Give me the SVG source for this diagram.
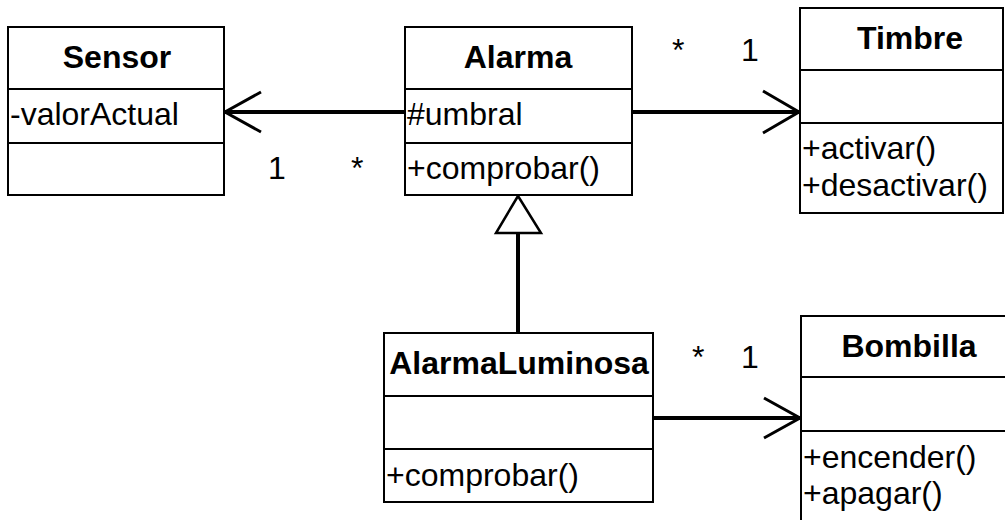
<svg xmlns="http://www.w3.org/2000/svg" width="1005" height="520" viewBox="0 0 1005 520">
<style>
.box{fill:#fff;stroke:#000;stroke-width:2}
.div{stroke:#000;stroke-width:2}
.t{font-family:"Liberation Sans",Arial,sans-serif;font-size:32px;fill:#000}
.b{font-weight:bold;text-anchor:middle}
.line{stroke:#000;stroke-width:4;fill:none}
.head{stroke:#000;stroke-width:3;fill:none}
.tri{stroke:#000;stroke-width:2.5;fill:#fff}
</style>
<rect width="1005" height="520" fill="#fff"/>
<g id="connectors">
<line class="line" x1="405" y1="112" x2="225" y2="112"/>
<polyline class="head" points="261,92 225,112 261,132"/>
<line class="line" x1="632" y1="112" x2="799" y2="112"/>
<polyline class="head" points="763,91 799,112 763,133"/>
<line class="line" x1="653" y1="418" x2="800" y2="418"/>
<polyline class="head" points="764,398 800,418 764,438"/>
<line class="line" x1="518" y1="233" x2="518" y2="333"/>
<polygon class="tri" points="518,196 496,233 541,233"/>
<text class="t" x="268" y="179">1</text>
<text class="t" x="351" y="179">*</text>
<text class="t" x="672" y="61">*</text>
<text class="t" x="741" y="61">1</text>
<text class="t" x="692" y="368">*</text>
<text class="t" x="741" y="368">1</text>
</g>
<g id="Sensor">
<rect class="box" x="8" y="27" width="216" height="168"/>
<line class="div" x1="8" y1="89" x2="224" y2="89"/>
<line class="div" x1="8" y1="143" x2="224" y2="143"/>
<text class="t b" x="117" y="68">Sensor</text>
<text class="t" x="10" y="125">-valorActual</text>
</g>
<g id="Alarma">
<rect class="box" x="405" y="27" width="227" height="168"/>
<line class="div" x1="405" y1="89" x2="632" y2="89"/>
<line class="div" x1="405" y1="143" x2="632" y2="143"/>
<text class="t b" x="518" y="68">Alarma</text>
<text class="t" x="407" y="125">#umbral</text>
<text class="t" x="407" y="179">+comprobar()</text>
</g>
<g id="Timbre">
<rect class="box" x="800" y="8" width="203" height="205"/>
<line class="div" x1="800" y1="70" x2="1003" y2="70"/>
<line class="div" x1="800" y1="123" x2="1003" y2="123"/>
<text class="t b" x="910" y="49">Timbre</text>
<text class="t" x="802" y="159">+activar()</text>
<text class="t" x="802" y="196">+desactivar()</text>
</g>
<g id="AlarmaLuminosa">
<rect class="box" x="384" y="333" width="269" height="169"/>
<line class="div" x1="384" y1="396" x2="653" y2="396"/>
<line class="div" x1="384" y1="449" x2="653" y2="449"/>
<text class="t b" x="519" y="374">AlarmaLuminosa</text>
<text class="t" x="386" y="486">+comprobar()</text>
</g>
<g id="Bombilla">
<rect class="box" x="801" y="316" width="220" height="220"/>
<line class="div" x1="801" y1="377" x2="1021" y2="377"/>
<line class="div" x1="801" y1="431" x2="1021" y2="431"/>
<text class="t b" x="909" y="357">Bombilla</text>
<text class="t" x="803" y="468">+encender()</text>
<text class="t" x="803" y="504">+apagar()</text>
</g>
</svg>
